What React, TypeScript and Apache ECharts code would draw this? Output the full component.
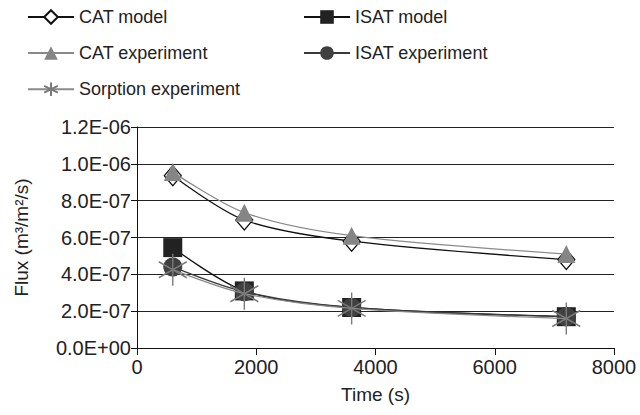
import React, { useEffect, useRef } from "react";
import * as echarts from "echarts";

// Sampling times (s)
const times = [600, 1800, 3600, 7200];

// Flux values (m3/m2/s)
const catModel = [9.35e-7, 6.95e-7, 5.8e-7, 4.8e-7];
const catExperiment = [9.55e-7, 7.35e-7, 6.1e-7, 5.1e-7];
const isatModel = [5.45e-7, 3.1e-7, 2.2e-7, 1.7e-7];
const isatExperiment = [4.4e-7, 3.05e-7, 2.2e-7, 1.7e-7];
const sorptionExperiment = [4.25e-7, 2.95e-7, 2.15e-7, 1.6e-7];

const yTicks = { min: 0, max: 1.2e-6, interval: 2e-7 };
const xTicks = { min: 0, max: 8000, interval: 2000 };

const FONT = "'Liberation Sans', Arial, Helvetica, sans-serif";

// six-armed asterisk marker
const STAR = "path://M0,-10L0,10M-8.66,-5L8.66,5M-8.66,5L8.66,-5";

function sci(v: number): string {
  if (Math.abs(v) < 1e-15) return "0.0E+00";
  const [m, e] = v.toExponential(1).split("e");
  const n = parseInt(e, 10);
  return m + "E" + (n < 0 ? "-" : "+") + String(Math.abs(n)).padStart(2, "0");
}

const pairs = (ys: number[]) => times.map((t, i) => [t, ys[i]]);

export default function App() {
  const ref = useRef<HTMLDivElement>(null);

  useEffect(() => {
    if (!ref.current) return;
    const chart = echarts.init(ref.current, null, { renderer: "svg" });

    const legendText = {
      fontSize: 18,
      lineHeight: 18,
      color: "#222",
      fontFamily: FONT,
    };
    const legendBase = {
      orient: "vertical",
      top: 3,
      itemWidth: 46,
      itemHeight: 17,
      itemGap: 18,
      textStyle: legendText,
    };

    chart.setOption({
      animation: false,
      backgroundColor: "#fff",
      textStyle: { fontFamily: FONT },
      legend: [
        {
          ...legendBase,
          left: 22,
          data: ["CAT model", "CAT experiment", "Sorption experiment"],
        },
        {
          ...legendBase,
          left: 298,
          data: ["ISAT model", "ISAT experiment"],
        },
      ],
      grid: { left: 137, right: 26, top: 127, bottom: 67 },
      xAxis: {
        type: "value",
        ...xTicks,
        name: "Time (s)",
        nameLocation: "middle",
        nameGap: 37,
        nameTextStyle: { fontSize: 19, color: "#222", fontFamily: FONT },
        axisLine: { show: true, lineStyle: { color: "#111", width: 1 } },
        axisTick: { show: true, length: 7, lineStyle: { color: "#111" } },
        axisLabel: {
          fontSize: 20,
          color: "#222",
          margin: 9,
          fontFamily: FONT,
          formatter: (v: number) => String(v),
        },
        splitLine: { show: false },
      },
      yAxis: {
        type: "value",
        ...yTicks,
        name: "Flux (m³/m²/s)",
        nameLocation: "middle",
        nameGap: 106,
        nameRotate: 90,
        nameTextStyle: { fontSize: 19, color: "#222", fontFamily: FONT },
        axisLine: { show: true, lineStyle: { color: "#111", width: 1 } },
        axisTick: { show: true, length: 6, lineStyle: { color: "#111" } },
        axisLabel: {
          fontSize: 20,
          color: "#222",
          margin: 6,
          fontFamily: FONT,
          formatter: (v: number) => sci(v),
        },
        splitLine: { show: true, lineStyle: { color: "#222", width: 1 } },
      },
      series: [
        {
          name: "CAT model",
          type: "line",
          smooth: 0.3,
          data: pairs(catModel),
          symbol: "diamond",
          symbolSize: [17, 20],
          lineStyle: { color: "#111", width: 1.3 },
          itemStyle: { color: "#fff", borderColor: "#111", borderWidth: 1.3 },
          z: 2,
        },
        {
          name: "CAT experiment",
          type: "line",
          smooth: 0.3,
          data: pairs(catExperiment),
          symbol: "triangle",
          symbolSize: [18, 18],
          lineStyle: { color: "#8a8a8a", width: 1.3 },
          itemStyle: { color: "#858585", borderColor: "#858585", borderWidth: 0 },
          z: 3,
        },
        {
          name: "ISAT model",
          type: "line",
          smooth: 0.3,
          data: pairs(isatModel),
          symbol: "rect",
          symbolSize: 19,
          lineStyle: { color: "#111", width: 1.3 },
          itemStyle: { color: "#222", borderColor: "#222", borderWidth: 0 },
          z: 4,
        },
        {
          name: "ISAT experiment",
          type: "line",
          smooth: 0.3,
          data: pairs(isatExperiment),
          symbol: "circle",
          symbolSize: 19,
          lineStyle: { color: "#3a3a3a", width: 1.3 },
          itemStyle: { color: "#404040", borderColor: "#404040", borderWidth: 0 },
          z: 5,
        },
        {
          name: "Sorption experiment",
          type: "line",
          smooth: 0.3,
          data: pairs(sorptionExperiment),
          symbol: STAR,
          symbolSize: [28, 32],
          lineStyle: { color: "#8a8a8a", width: 1.3 },
          itemStyle: { color: "none", borderColor: "#7a7a7a", borderWidth: 1.5 },
          z: 6,
        },
      ],
    });

    return () => chart.dispose();
  }, []);

  return (
    <div
      ref={ref}
      style={{ position: "fixed", left: 0, top: 0, width: 640, height: 415 }}
    />
  );
}
